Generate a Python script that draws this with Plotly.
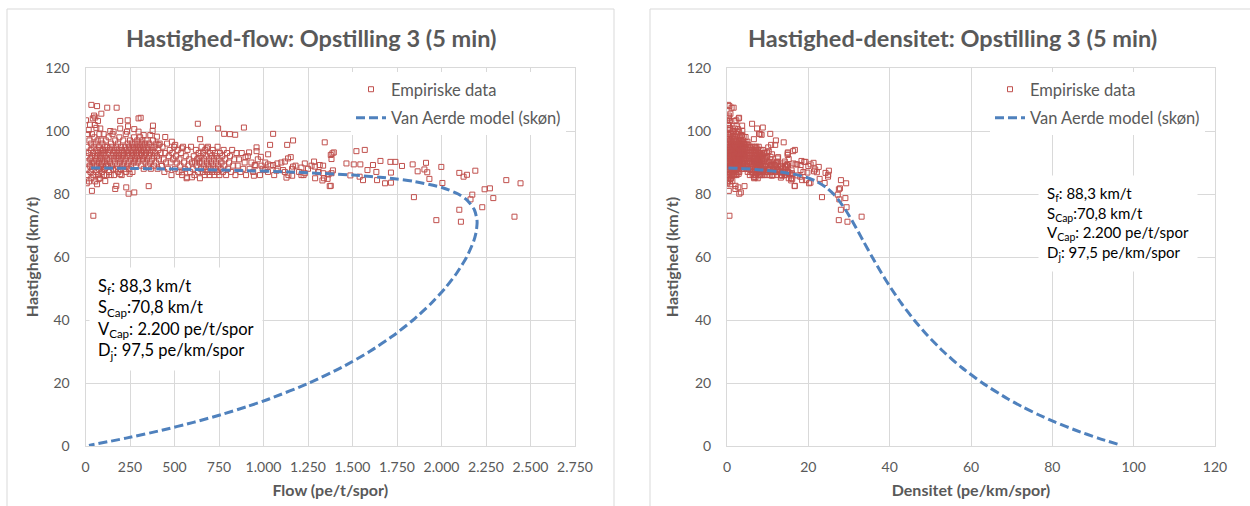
import numpy as np
import plotly.graph_objects as go

# ---------------- DATA ----------------
low_flow = [5,8,10,12,14,15,18,20,22,24,25,27,28,30,32,33,35,36,38,40,41,43,45,46,48,50,51,53,55,56,58,60,61,63,65,66,68,70,71,73,75,76,78,80,82,83,85,87,88,90,92,93,95,97,98,100,102,104,105,107,109,110,112,114,115,117,119,120]
low_speed = [92,88,95,86,99,90,93,84,97,89,102,91,87,94,96,85,90,99,92,88,104,93,86,95,90,98,89,92,84,96,91,87,101,94,89,92,97,86,93,90,95,88,99,91,85,94,92,89,97,93,87,90,96,88,94,91,99,86,93,90,95,88,92,97,89,94,86,91]

mid_flow = [123,126,128,130,132,135,137,139,141,143,146,148,150,152,154,156,158,160,162,165,167,169,171,173,175,178,180,182,184,186,188,190,193,195,197,199,201,203,206,208,210,212,215,217,219,221,224,226,228,230,232,235,237,239,241,244,246,248,250,253,255,257,260,262,264,266,269,271,273,275,278,280,282,284,287,289,291,293,296,298,300,302,305,307,309,311,314,316,318,320,323,325,327,330,332,335,337,340,343,345,348,350,353,356,358,361,364,367,370,373,376,379,382,385,388,391,395,398,402,405,409,413,417]
mid_speed = [95,89,93,98,87,91,94,90,86,96,92,89,95,99,88,93,91,86,94,90,97,92,88,95,93,89,91,96,87,94,92,98,90,88,93,95,91,86,94,89,92,97,90,93,88,95,91,99,87,94,92,89,96,93,90,95,88,92,97,94,91,89,96,93,87,95,92,90,98,94,91,96,89,93,95,92,97,90,94,96,93,91,95,98,92,94,89,96,93,97,91,95,88,94,92,96,90,93,97,91,95,89,94,92,96,90,93,88,95,91,94,97,92,89,95,93,90,96,92,88,94,91,96]

band_flow = [422,428,433,438,443,448,453,458,463,468,473,478,483,488,493,498,503,508,513,518,523,528,533,538,543,548,553,558,563,568,573,578,583,588,593,598]
band_speed = [93,89,95,91,87,93,90,96,88,92,94,90,86,93,91,95,88,92,90,94,87,91,89,93,86,95,90,88,92,85,94,89,91,87,95,90]

cluster_flow = [603,608,612,616,620,624,628,632,636,640,643,646,649,652,655,658,661,664,667,670,673,676,679,682,685,688,691,694,697,700,703,706,709,712,715,718,721,724,727,730,733,736,739,742,745,748,752,756,760,764,768,772,776,780,785,790,795,800,806,812,818,824,830,836,842,848]
cluster_speed = [88,92,86,90,94,89,91,87,93,90,85,92,88,95,90,87,93,89,91,86,94,88,92,90,87,95,89,91,86,93,88,90,92,87,94,89,91,86,93,88,90,92,87,95,89,91,86,93,88,90,92,87,94,89,91,86,93,88,90,92,87,94,89,91,86,93]

sparse_flow = [855,862,870,878,886,894,902,912,922,932,942,955,968,980,995,1010,1025,1040,1060,1080,1100,1120,1140,1160,1180,1200,1225,1250,1270,1290,1310,1340,1360,1365,1390]
sparse_speed = [89,91,87,93,88,90,86,92,88,90,87,89,91,86,88,90,87,89,86,88,90,87,86,88,89,87,86,88,89,85,87,85,84.8,86.2,87.5]

outlier_flow = [1522,1569,1657,1713,1741,1778,1838,1913,1866,1904,1920,1932,1999,2005,1845,1971,2100,2124,2143,2190,2100,2109,2163,2173,2229,2242,2272,2291,2364,2444,2410,1683,1716,1638,1559,1540,1584,1615,1634,1716,1507,1544,1488,1372,1466,1387,1395,
                745,890,779,811,841,1054,1166,1133,1037,961,961,1344,1378,1382,985,1026,919,899,946,1129,1161,1213,1331,1378,1138,1153,1120,1232,1284,1288,1316,1213,1166,1078,1054,1026,989,951,1110,1335,1335,1307,1232,1007,1073,1382,
                33,65,122,175,3,48,89,55,195,237,298,310,239,274,379,377,158,18,631,644,401,448,36,242,274,355,173,167,229,111,7,65,74,195,248,429,541,571,598,635,682,504,485,541,411,364,327,298,233,195,139,83,52,70,44]
outlier_speed = [93.6,94.0,90.5,90.2,90.2,88.9,89.4,89.9,87.2,87.8,86.9,84.8,88.6,83.5,79.0,71.7,86.7,85.5,86.1,87.4,75.0,71.2,78.3,79.8,75.8,81.5,81.8,78.7,84.4,83.4,72.8,83.4,83.6,84.4,84.4,85.5,87.6,89.2,87.0,86.8,89.4,89.4,85.9,82.5,89.7,92.9,93.2,
                 100.8,101.1,99.1,99.0,98.8,99.1,97.0,95.6,95.6,94.8,93.6,96.4,92.4,91.1,91.8,92.6,93.2,91.7,85.8,85.2,85.8,86.0,84.3,82.6,91.3,91.7,90.3,89.7,90.3,88.7,89.2,88.4,88.7,89.7,89.2,89.4,89.0,89.2,87.6,89.0,86.6,86.9,86.6,87.6,87.4,86.6,
                 108.3,107.9,107.4,107.4,103.4,104.9,105.5,104.3,103.2,103.4,104.0,104.2,101.5,100.6,101.7,100.0,99.8,100.3,102.3,97.4,98.2,98.1,81.0,80.1,80.5,82.5,82.6,81.6,82.1,84.1,83.4,83.1,84.8,86.3,86.4,88.9,86.9,85.3,85.3,91.3,94.5,95.6,96.6,94.5,95.6,98.7,98.7,99.8,99.8,100.8,100.0,100.8,101.9,103.2,73.1]

# Van Aerde model (skøn) curve points
model_speed = [88.28, 88.2, 88.1, 88.0, 87.8, 87.5, 87.0, 86.0, 85.0, 84.0, 82.0, 80.0, 78.0, 75.0, 72.0, 70.8, 68.0, 65.0, 60.0, 55.0, 50.0, 45.0, 40.0, 35.0, 30.0, 25.0, 20.0, 15.0, 12.5, 10.0, 7.5, 5.0, 2.5, 0.2]
model_flow = [31.5, 150.2, 283.8, 403.4, 608.3, 851.5, 1144.4, 1502.4, 1711.1, 1846.0, 2006.3, 2093.9, 2144.9, 2184.6, 2198.9, 2200.0, 2195.0, 2180.7, 2141.5, 2086.9, 2018.7, 1937.0, 1840.7, 1728.1, 1596.2, 1440.9, 1256.5, 1035.0, 906.9, 764.8, 606.4, 428.7, 228.1, 19.4]
model_density = [0.357, 1.703, 3.222, 4.584, 6.928, 9.731, 13.154, 17.470, 20.130, 21.976, 24.467, 26.174, 27.499, 29.128, 30.541, 31.073, 32.279, 33.549, 35.691, 37.944, 40.374, 43.043, 46.018, 49.373, 53.205, 57.634, 62.823, 69.000, 72.552, 76.481, 80.849, 85.740, 91.245, 96.970]

flow_ticks = [0, 250, 500, 750, 1000, 1250, 1500, 1750, 2000, 2250, 2500, 2750]
flow_tick_labels = ["0", "250", "500", "750", "1.000", "1.250", "1.500", "1.750", "2.000", "2.250", "2.500", "2.750"]
density_ticks = [0, 20, 40, 60, 80, 100, 120]
speed_ticks = [0, 20, 40, 60, 80, 100, 120]

param_text = ("S<sub>f</sub>: 88,3 km/t<br>S<sub>Cap</sub>:70,8 km/t<br>"
              "V<sub>Cap</sub>: 2.200 pe/t/spor<br>D<sub>j</sub>: 97,5 pe/km/spor")

# ---------------- FIGURE ----------------
flow = np.array(low_flow + mid_flow + band_flow + cluster_flow + sparse_flow + outlier_flow, dtype=float)
speed = np.array(low_speed + mid_speed + band_speed + cluster_speed + sparse_speed + outlier_speed, dtype=float)
density = flow / speed

W, H = 1250, 506
FONT = "Lato"
GRAY = "#595959"
RED = "#C0504D"
BLUE = "#4F81BD"
GRID = "#D9D9D9"

def px(x):
    return x / W

def py(y):
    return (H - y) / H

marker = dict(symbol="square-open", size=5, color=RED, line=dict(width=1, color=RED))
line = dict(color=BLUE, width=3, dash="9px,4px", shape="spline", smoothing=0.6)

fig = go.Figure()
fig.add_trace(go.Scatter(x=flow, y=speed, mode="markers", marker=marker, legendgroup="a",
                         name="Empiriske data", xaxis="x", yaxis="y", legend="legend"))
fig.add_trace(go.Scatter(x=model_flow, y=model_speed, mode="lines", line=line, legendgroup="b",
                         name="Van Aerde model (skøn)", xaxis="x", yaxis="y", legend="legend"))
fig.add_trace(go.Scatter(x=density, y=speed, mode="markers", marker=marker, legendgroup="c",
                         name="Empiriske data", xaxis="x2", yaxis="y2", legend="legend2"))
fig.add_trace(go.Scatter(x=model_density, y=model_speed, mode="lines", line=line, legendgroup="d",
                         name="Van Aerde model (skøn)", xaxis="x2", yaxis="y2", legend="legend2"))

axis_common = dict(showgrid=True, gridcolor=GRID, gridwidth=1, zeroline=False,
                   showline=True, linecolor=GRID, linewidth=1, mirror=True,
                   ticks="", tickfont=dict(family=FONT, size=14, color=GRAY),
                   fixedrange=True, automargin=False)
title_font = dict(family=FONT, size=16, color=GRAY)

ydom = [py(446), py(68)]
legend_common = dict(xanchor="left", yanchor="top", bgcolor="white",
                     font=dict(family=FONT, size=16.5, color=GRAY), itemwidth=30,
                     tracegroupgap=4, traceorder="grouped")
fig.update_layout(
    width=W, height=H,
    margin=dict(l=0, r=0, t=0, b=0, autoexpand=False),
    paper_bgcolor="white", plot_bgcolor="white",
    font=dict(family=FONT, color=GRAY),
    xaxis=dict(domain=[px(85.5), px(575)], range=[0, 2750], tickvals=flow_ticks,
               ticktext=flow_tick_labels, anchor="y", ticklabelstandoff=8,
               title=dict(text="<b>Flow (pe/t/spor)</b>", font=title_font, standoff=11),
               **axis_common),
    yaxis=dict(domain=ydom, range=[0, 120], tickvals=speed_ticks, anchor="x", ticklabelstandoff=12,
               title=dict(text="<b>Hastighed (km/t)</b>", font=title_font, standoff=2),
               **axis_common),
    xaxis2=dict(domain=[px(727), px(1215)], range=[0, 120], tickvals=density_ticks,
                anchor="y2", ticklabelstandoff=8,
                title=dict(text="<b>Densitet (pe/km/spor)</b>", font=title_font, standoff=11),
                **axis_common),
    yaxis2=dict(domain=ydom, range=[0, 120], tickvals=speed_ticks, anchor="x2", ticklabelstandoff=12,
                title=dict(text="<b>Hastighed (km/t)</b>", font=title_font, standoff=4),
                **axis_common),
    legend=dict(x=px(351), y=py(72), **legend_common),
    legend2=dict(x=px(990), y=py(72), **legend_common),
    showlegend=True,
)

# chart area borders
fig.add_shape(type="rect", xref="paper", yref="paper", x0=px(7), x1=px(614), y0=-0.05, y1=py(9),
              line=dict(color=GRID, width=1), layer="below")
fig.add_shape(type="rect", xref="paper", yref="paper", x0=px(650), x1=px(1252), y0=-0.05, y1=py(9),
              line=dict(color=GRID, width=1), layer="below")

# chart titles
fig.add_annotation(text="<b>Hastighed-flow: Opstilling 3 (5 min)</b>", xref="paper", yref="paper",
                   x=px(311), y=py(38), showarrow=False, xanchor="center", yanchor="middle",
                   font=dict(family=FONT, size=23.5, color=GRAY))
fig.add_annotation(text="<b>Hastighed-densitet: Opstilling 3 (5 min)</b>", xref="paper", yref="paper",
                   x=px(952), y=py(38), showarrow=False, xanchor="center", yanchor="middle",
                   font=dict(family=FONT, size=23.5, color=GRAY))

# parameter boxes
fig.add_annotation(text=param_text, xref="paper", yref="paper", x=px(89), y=py(267),
                   xanchor="left", yanchor="top", align="left", showarrow=False,
                   bgcolor="white", borderpad=8, font=dict(family=FONT, size=16.5, color="black"))
fig.add_annotation(text=param_text, xref="paper", yref="paper", x=px(1038), y=py(175),
                   xanchor="left", yanchor="top", align="left", showarrow=False,
                   bgcolor="white", borderpad=8, font=dict(family=FONT, size=15, color="black"))

fig.write_html("out.html", config={"displayModeBar": False},
               post_script="document.body.style.margin='0';document.body.style.overflow='hidden';")
